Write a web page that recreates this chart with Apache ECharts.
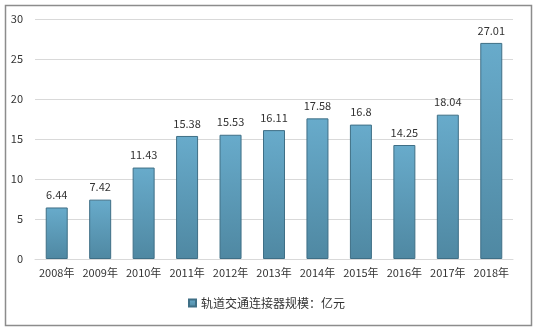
<!DOCTYPE html>
<html><head><meta charset="utf-8">
<script src="https://cdn.jsdelivr.net/npm/echarts@6/dist/echarts.min.js"></script>
<style>html,body{margin:0;padding:0;background:#fff}#c{width:533px;height:328px}</style>
</head><body><div id="c"></div>
<script>
const categories = ['2008年','2009年','2010年','2011年','2012年','2013年','2014年','2015年','2016年','2017年','2018年'];
const values = [6.44, 7.42, 11.43, 15.38, 15.53, 16.11, 17.58, 16.8, 14.25, 18.04, 27.01];
const seriesName = '轨道交通连接器规模：亿元';
const font = '"Noto Sans CJK SC", "Liberation Sans", sans-serif';
const chart = echarts.init(document.getElementById('c'), null, {renderer:'canvas'});
chart.setOption({
  animation:false,
  graphic:[{type:'rect', left:3, top:3, shape:{width:526, height:320}, style:{fill:'none', stroke:'#8c8c8c', lineWidth:1.5}, silent:true}],
  grid:{left:35, right:20, top:19, bottom:69},
  legend:{bottom:14, left:'center', itemWidth:7, itemHeight:7, icon:'rect', textStyle:{fontFamily:font, fontSize:12, color:'#333'}, data:[seriesName]},
  xAxis:{type:'category', data:categories, axisTick:{show:false}, axisLine:{lineStyle:{color:'#d9d9d9'}},
    axisLabel:{fontFamily:font, fontSize:11, color:'#333', margin:8, interval:0}},
  yAxis:{type:'value', min:0, max:30, interval:5, axisLine:{show:false}, axisTick:{show:false},
    splitLine:{lineStyle:{color:'#d9d9d9'}}, axisLabel:{fontFamily:font, fontSize:11, color:'#333', margin:12}},
  series:[{name:seriesName, type:'bar', data:values, barWidth:22,
    itemStyle:{color:new echarts.graphic.LinearGradient(0,0,0,1,[{offset:0,color:'#68abcb'},{offset:1,color:'#4f88a2'}]), borderColor:'#3f6f86', borderWidth:1},
    label:{show:true, position:'top', distance:7, fontFamily:font, fontSize:11, color:'#333'}}]
});
</script></body></html>
